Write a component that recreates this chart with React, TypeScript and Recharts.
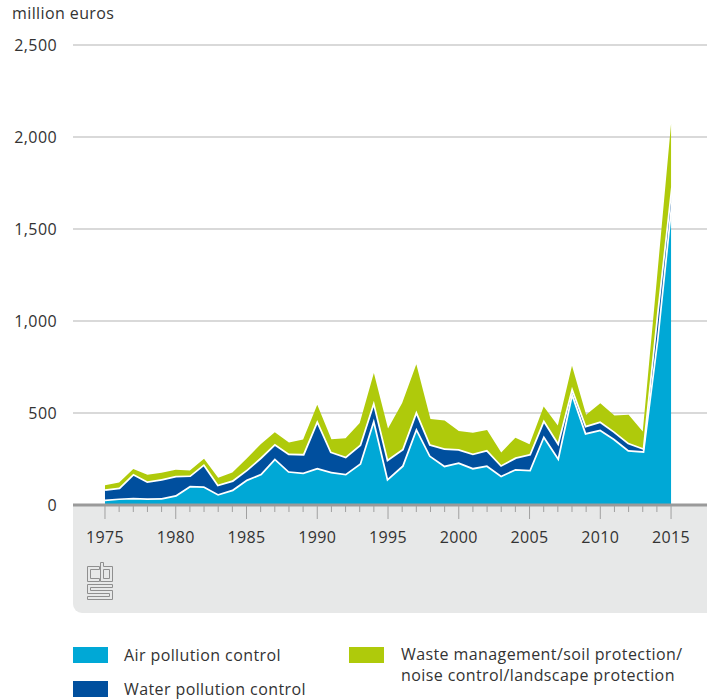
import React from "react";
import { AreaChart, Area, XAxis, YAxis, CartesianGrid } from "recharts";

const years = [
  1975, 1976, 1977, 1978, 1979, 1980, 1981, 1982, 1983, 1984,
  1985, 1986, 1987, 1988, 1989, 1990, 1991, 1992, 1993, 1994,
  1995, 1996, 1997, 1998, 1999, 2000, 2001, 2002, 2003, 2004,
  2005, 2006, 2007, 2008, 2009, 2010, 2011, 2012, 2013, 2014, 2015,
];

const airPollution = [
  30, 36, 40, 37, 38, 54, 104, 102, 60, 84,
  138, 170, 254, 184, 177, 202, 181, 170, 226, 470,
  146, 214, 420, 268, 214, 232, 202, 216, 161, 196,
  192, 378, 261, 615, 392, 410, 360, 299, 293, 900, 1640,
];

const waterPollution = [
  55, 59, 130, 92, 103, 105, 57, 121, 51, 50,
  54, 89, 79, 96, 101, 260, 109, 93, 102, 97,
  104, 90, 93, 62, 95, 72, 78, 84, 57, 63,
  85, 86, 81, 27, 40, 45, 40, 39, 17, 140, 90,
];

const wasteSoilNoise = [
  23, 27, 26, 35, 34, 32, 26, 29, 37, 43,
  60, 71, 63, 59, 78, 83, 67, 100, 118, 150,
  166, 250, 252, 138, 150, 98, 113, 107, 68, 107,
  53, 72, 90, 115, 59, 98, 86, 152, 90, 190, 340,
];

const yTicks = [0, 500, 1000, 1500, 2000, 2500];
const xTicks = years;

const seriesNames = {
  air: "Air pollution control",
  water: "Water pollution control",
  waste1: "Waste management/soil protection/",
  waste2: "noise control/landscape protection",
};

const COLORS = { air: "#00a8d6", water: "#004f9e", waste: "#afca0b" };

const data = years.map((y, i) => ({
  year: y,
  air: airPollution[i],
  water: waterPollution[i],
  waste: wasteSoilNoise[i],
}));

const FONT = "'Open Sans', sans-serif";
const TEXT = "#333333";

const XTick = (props: any) => {
  const { x, y, payload } = props;
  const major = payload.value % 5 === 0;
  return (
    <g>
      <line x1={x} x2={x} y1={y + 1} y2={y + 1 + (major ? 13 : 6)} stroke="#a0a0a0" strokeWidth={1} />
      {major && (
        <text x={x} y={y + 32} dy="0.355em" textAnchor="middle" fill={TEXT} fontSize={16} fontFamily={FONT} letterSpacing={0.4}>
          {payload.value}
        </text>
      )}
    </g>
  );
};

const fmt = (v: number) => v.toLocaleString("en-US");

export default function App() {
  return (
    <div style={{ position: "absolute", left: 0, top: 0, width: 707, height: 700, background: "#fff", fontFamily: FONT }}>
      <div
        style={{
          position: "absolute",
          left: 73,
          top: 506,
          width: 634,
          height: 107,
          background: "#e7e8e8",
          borderBottomLeftRadius: 9,
        }}
      />
      <svg style={{ position: "absolute", left: 86, top: 562 }} width={29} height={40}>
        <g fill="none" stroke="#8f8f8f" strokeWidth={1}>
          <path d="M13.5,4.5 H1.5 V19.5 H13.5 V16.5 H4.5 V7.5 H13.5 Z" />
          <path d="M14.5,0.5 H17.5 V4.5 H26.5 V19.5 H14.5 Z" />
          <path d="M17.5,7.5 H23.5 V16.5 H17.5 Z" />
          <path d="M1.5,22.5 H26.5 V25.5 H4.5 V28.5 H26.5 V37.5 H1.5 V34.5 H23.5 V31.5 H1.5 Z" />
        </g>
      </svg>
      <div style={{ position: "absolute", left: 12, top: 2, fontSize: 16, color: TEXT, letterSpacing: 0.4 }}>million euros</div>
      <div style={{ position: "absolute", left: 0, top: 0 }}>
        <AreaChart width={707} height={700} data={data} margin={{ top: 45, right: 0, left: 0, bottom: 155 }}>
          <CartesianGrid vertical={false} stroke="#b4b4b4" strokeWidth={1.2} />
          <XAxis
            dataKey="year"
            type="number"
            domain={[1972.74, 2017.54]}
            ticks={xTicks}
            interval={0}
            height={40}
            tickSize={0}
            tickMargin={0}
            tickLine={false}
            axisLine={{ stroke: "#9a9a9a", strokeWidth: 3 }}
            tick={<XTick />}
            allowDataOverflow
          />
          <YAxis
            type="number"
            domain={[0, 2500]}
            ticks={yTicks}
            width={73}
            tickSize={0}
            tickMargin={16}
            axisLine={false}
            tickLine={false}
            tickFormatter={fmt}
            tick={{ fill: TEXT, fontSize: 16, fontFamily: FONT, letterSpacing: 0.4 }}
          />
          <Area type="linear" dataKey="air" stackId="1" stroke="#ffffff" strokeWidth={3.5} fill={COLORS.air} fillOpacity={1} isAnimationActive={false} />
          <Area type="linear" dataKey="water" stackId="1" stroke="#ffffff" strokeWidth={3.5} fill={COLORS.water} fillOpacity={1} isAnimationActive={false} />
          <Area type="linear" dataKey="waste" stackId="1" stroke="none" fill={COLORS.waste} fillOpacity={1} isAnimationActive={false} />
        </AreaChart>
      </div>
      <div style={{ position: "absolute", left: 73, top: 647, width: 35, height: 16, background: COLORS.air }} />
      <div style={{ position: "absolute", left: 124, top: 644, fontSize: 16, color: TEXT, letterSpacing: 0.4, lineHeight: "22px" }}>{seriesNames.air}</div>
      <div style={{ position: "absolute", left: 73, top: 681, width: 35, height: 16, background: COLORS.water }} />
      <div style={{ position: "absolute", left: 124, top: 678, fontSize: 16, color: TEXT, letterSpacing: 0.4, lineHeight: "22px" }}>{seriesNames.water}</div>
      <div style={{ position: "absolute", left: 349, top: 647, width: 35, height: 16, background: COLORS.waste }} />
      <div style={{ position: "absolute", left: 401, top: 644, fontSize: 16, color: TEXT, letterSpacing: 0.4, lineHeight: "21px" }}>
        {seriesNames.waste1}
        <br />
        {seriesNames.waste2}
      </div>
    </div>
  );
}
